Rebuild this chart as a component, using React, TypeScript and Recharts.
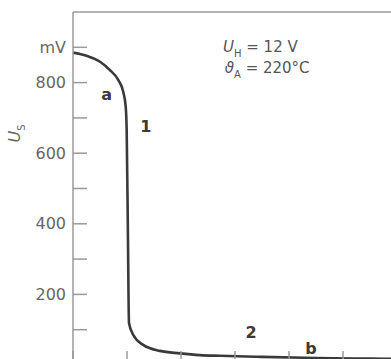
import { LineChart, Line, XAxis, YAxis, ReferenceLine, ReferenceDot } from "recharts";

// air ratio (lambda) on x, sensor voltage U_S in mV on y
const lambdaValues = [
  0.9, 0.925, 0.95, 0.968, 0.984, 0.993, 0.9976, 0.9994, 1.0015, 1.0037, 1.0117, 1.03, 1.061, 1.098, 1.135,
  1.172, 1.25, 1.35, 1.45, 1.5,
];
const voltageValues = [885, 876, 859, 836, 807, 774, 732, 666, 400, 119, 85, 57, 40, 33, 28, 26, 23, 20, 18, 17];

const xTicks = [0.9, 1.0, 1.1, 1.2, 1.3, 1.4, 1.5];
const yTicks = [100, 200, 300, 400, 500, 600, 700, 800, 900];
const yTickLabels: Record<number, string> = { 200: "200", 400: "400", 600: "600", 800: "800", 900: "mV" };

const data = lambdaValues.map((x, i) => ({ x, us: voltageValues[i] }));

const FONT = "'DejaVu Sans', sans-serif";
const AXIS = "#9a9a9a";
const INK = "#3a3a3a";

const mark = (text: string) => (p: any) => (
  <text x={p.cx} y={p.cy} textAnchor="middle" dominantBaseline="central" fontSize={16} fontWeight="bold" fill={INK}>
    {text}
  </text>
);

export default function App() {
  return (
    <div style={{ position: "absolute", left: 0, top: 0, width: 391, height: 359, overflow: "hidden", background: "#fff" }}>
      <LineChart width={410} height={380} data={data} margin={{ top: 12, right: 13, left: 1, bottom: 0 }} style={{ fontFamily: FONT }}>
        <XAxis
          dataKey="x"
          type="number"
          domain={[0.9, 1.5]}
          ticks={xTicks}
          tickFormatter={() => ""}
          tickSize={-14}
          height={15}
          stroke={AXIS}
          strokeWidth={1.5}
        />
        <YAxis
          type="number"
          domain={[0, 1000]}
          ticks={yTicks}
          width={72}
          tickSize={-14}
          tickMargin={21}
          tickFormatter={(v: number) => yTickLabels[v] ?? ""}
          tick={{ fontSize: 16, fill: "#666" }}
          stroke={AXIS}
          strokeWidth={1.5}
        />
        <ReferenceLine y={1000} stroke={AXIS} strokeWidth={1.5} />
        <ReferenceLine x={1.5} stroke={AXIS} strokeWidth={1.5} />
        <Line dataKey="us" type="monotoneX" stroke={INK} strokeWidth={2.6} dot={false} isAnimationActive={false} />

        <ReferenceDot x={0.9624} y={765} r={0} shape={mark("a")} />
        <ReferenceDot x={1.035} y={677} r={0} shape={mark("1")} />
        <ReferenceDot x={1.2296} y={92} r={0} shape={mark("2")} />
        <ReferenceDot x={1.3407} y={48} r={0} shape={mark("b")} />

        <ReferenceDot
          x={1.1778}
          y={887}
          r={0}
          shape={(p: any) => (
            <text x={p.cx} y={p.cy} fontSize={15} fill="#555">
              <tspan fontStyle="italic">U</tspan>
              <tspan dy={5} fontSize={10}>H</tspan>
              <tspan dy={-5}> = 12 V</tspan>
            </text>
          )}
        />
        <ReferenceDot
          x={1.181}
          y={827}
          r={0}
          shape={(p: any) => (
            <text x={p.cx} y={p.cy} fontSize={15} fill="#555">
              <tspan fontStyle="italic">ϑ</tspan>
              <tspan dy={5} fontSize={10}>A</tspan>
              <tspan dy={-5}> = 220°C</tspan>
            </text>
          )}
        />
        <ReferenceDot
          x={0.8019}
          y={656}
          r={0}
          ifOverflow="visible"
          shape={(p: any) => (
            <text
              x={p.cx}
              y={p.cy}
              transform={`rotate(-90 ${p.cx} ${p.cy})`}
              textAnchor="middle"
              fontSize={16}
              fill="#666"
            >
              <tspan fontStyle="italic">U</tspan>
              <tspan dy={5} fontSize={10}>S</tspan>
            </text>
          )}
        />
      </LineChart>
    </div>
  );
}
